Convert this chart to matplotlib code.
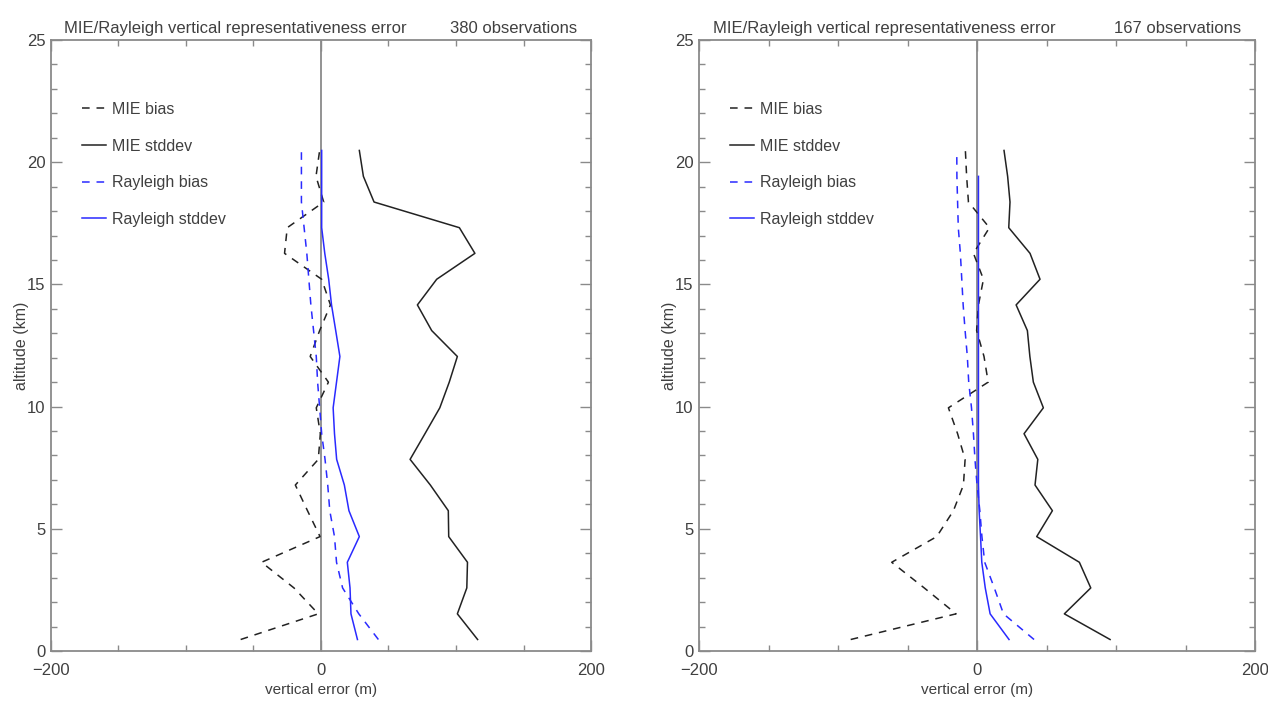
import numpy as np
import matplotlib
matplotlib.use("Agg")
import matplotlib.pyplot as plt
from matplotlib.ticker import MultipleLocator

plt.rcParams['font.family'] = ['Liberation Sans', 'DejaVu Sans']

# altitude levels (km), shared by both panels
alt = [0.47, 1.52, 2.58, 3.63, 4.68, 5.74, 6.79, 7.84, 8.89, 9.95,
       11.00, 12.05, 13.11, 14.16, 15.21, 16.27, 17.32, 18.37, 19.42, 20.48]

# left panel, 380 observations (m)
mie_bias_380 = [-59.5, -2, -20, -44, -0.7, -10, -19, -2, -0.5, -3.5,
                5.5, -8, -1, 7, 0.5, -27, -25, 2, -3.7, -1]
mie_std_380 = [116, 101, 108, 108.5, 94.6, 94.3, 81, 66, 77, 88,
               95, 101, 82, 71.4, 85.7, 114, 102.5, 39.3, 31.4, 28.4]
ray_bias_380 = [42.5, 28, 16, 11.5, 10, 6.5, 5, 3, 0.5, -1,
                -2.5, -3.5, -5.5, -7.5, -9, -10.5, -12.5, -14.5, -14.5, -14.5]
ray_std_380 = [27, 22.2, 21.5, 19.5, 28.4, 20.7, 17.3, 11.6, 10, 9,
               11.5, 14, 10.9, 7.8, 5.7, 2.8, 0.5, 0.5, 0.5, 0.5]

# right panel, 167 observations (m)
mie_bias_167 = [-90.9, -15.1, -38, -61.4, -29, -17, -9.8, -8.6, -14, -20.6,
                8, 5, -0.3, 1, 4.6, -2.6, 8.9, -6.2, -7.5, -8.4]
mie_std_167 = [95.7, 62.8, 81.8, 73.6, 42.9, 54.2, 41.7, 43.7, 33.8, 47.7,
               40.5, 38, 36.2, 28.1, 45.3, 38.1, 22.8, 23.7, 22, 19.4]
ray_bias_167 = [41, 19, 12.4, 5.5, 3.5, 2, 0, -1.5, -2.6, -4,
                -6, -7, -8.6, -10, -11, -12, -13.5, -14, -14.5, -14.6]
ray_std_167 = [23, 9.4, 5.9, 3.4, 2.5, 1.5, 1, 1, 1, 1,
               1, 1, 1, 1, 1, 1, 1, 1, 1, np.nan]

panels = [
    (380, mie_bias_380, mie_std_380, ray_bias_380, ray_std_380),
    (167, mie_bias_167, mie_std_167, ray_bias_167, ray_std_167),
]

title = "MIE/Rayleigh vertical representativeness error"
gray = "#8a8a8a"
txt = "#404040"
blue = "#2a2aff"
dash = (0, (5, 4.5))

fig = plt.figure(figsize=(12.68, 7.04), dpi=100)
boxes = [[0.0402, 0.0753, 0.4259, 0.8679], [0.5513, 0.0753, 0.4385, 0.8679]]

for box, (nobs, mb, ms, rb, rs) in zip(boxes, panels):
    ax = fig.add_axes(box)
    ax.axvline(0, color=gray, lw=1.3, zorder=1)
    ax.plot(mb, alt, color="#222222", lw=1.1, ls=dash, label="MIE bias")
    ax.plot(ms, alt, color="#222222", lw=1.1, label="MIE stddev")
    ax.plot(rb, alt, color=blue, lw=1.1, ls=dash, label="Rayleigh bias")
    ax.plot(rs, alt, color=blue, lw=1.1, label="Rayleigh stddev")

    ax.set_xlim(-200, 200)
    ax.set_ylim(0, 25)
    ax.xaxis.set_major_locator(MultipleLocator(200))
    ax.xaxis.set_minor_locator(MultipleLocator(50))
    ax.yaxis.set_major_locator(MultipleLocator(5))
    ax.yaxis.set_minor_locator(MultipleLocator(1))
    ax.tick_params(which="both", direction="in", top=True, right=True,
                   color=gray, labelcolor=txt, labelsize=12, width=1.0)
    ax.tick_params(which="major", length=8)
    ax.tick_params(which="minor", length=4)
    ax.tick_params(axis="x", pad=9)
    ax.tick_params(axis="y", pad=4)
    for s in ax.spines.values():
        s.set_color(gray)
        s.set_linewidth(1.3)

    ax.set_xlabel("vertical error (m)", fontsize=11, color=txt)
    ax.set_ylabel("altitude (km)", fontsize=11.5, color=txt)
    ax.xaxis.set_label_coords(0.5, -0.052)
    ax.yaxis.set_label_coords(-0.04, 0.5)

    ax.text(0.025, 1.012, title, transform=ax.transAxes, ha="left",
            va="baseline", fontsize=12, color=txt)
    ax.text(0.975, 1.012, f"{nobs} observations", transform=ax.transAxes,
            ha="right", va="baseline", fontsize=12, color=txt)

    ax.legend(loc="upper left", bbox_to_anchor=(0.03, 0.922), frameon=False,
              fontsize=11.5, handlelength=1.5, handletextpad=0.4,
              labelspacing=1.35, labelcolor=txt)

fig.savefig("out.png", dpi=100)
